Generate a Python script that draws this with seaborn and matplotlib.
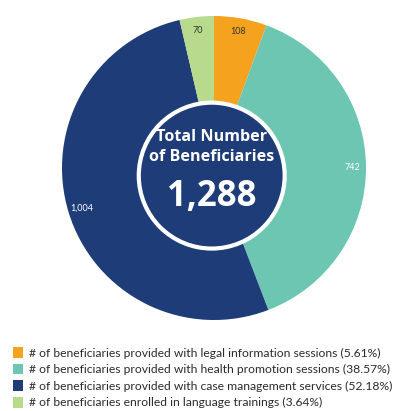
import matplotlib
matplotlib.use("Agg")
import matplotlib.pyplot as plt
import seaborn as sns
from matplotlib.patches import Circle

# data
labels = [
    "# of beneficiaries provided with legal information sessions (5.61%)",
    "# of beneficiaries provided with health promotion sessions (38.57%)",
    "# of beneficiaries provided with case management services (52.18%)",
    "# of beneficiaries enrolled in language trainings (3.64%)",
]
values = [108, 742, 1004, 70]
value_labels = ["108", "742", "1,004", "70"]
total_label = "1,288"
colors = ["#F5A21F", "#6CC6B1", "#1E3C78", "#B7DA8C"]

sns.set_theme(style="white")
plt.rcParams["font.family"] = ["Lato", "DejaVu Sans"]

fig = plt.figure(figsize=(4.01, 4.11), dpi=100)
ax = fig.add_axes([62 / 401, (411 - 320) / 411, 304 / 401, 304 / 411])

wedges, texts = ax.pie(values, labels=value_labels, colors=colors, startangle=90,
                       counterclock=False, labeldistance=0.91,
                       wedgeprops=dict(linewidth=0))
for t, c in zip(texts, ["#333333", "white", "white", "#333333"]):
    t.set_color(c)
    t.set_fontsize(6.5)
    t.set_ha("center")
    t.set_va("center")

# center circle
ax.add_patch(Circle((-0.015, -0.05), 0.48, facecolor="#1E3C78",
                    edgecolor="white", linewidth=3, zorder=5))
ax.text(-0.015, 0.205, "Total Number", ha="center", va="center", color="white",
        fontsize=11.6, fontweight="bold", family="Open Sans", zorder=6)
ax.text(-0.015, 0.07, "of Beneficiaries", ha="center", va="center", color="white",
        fontsize=11.6, fontweight="bold", family="Open Sans", zorder=6)
ax.text(-0.015, -0.19, total_label, ha="center", va="center", color="white",
        fontsize=25, fontweight="bold", family="Open Sans", zorder=6)
ax.set_xlim(-1, 1)
ax.set_ylim(-1, 1)
ax.set_aspect("equal")
ax.axis("off")

fig.legend(wedges, labels, loc="upper left", bbox_to_anchor=(13 / 401, 1 - 347 / 411),
           frameon=False, fontsize=8.7, handlelength=0.85, handleheight=1.0,
           handletextpad=0.45, labelspacing=0.42, borderaxespad=0, borderpad=0,
           labelcolor="#2b2b2b")

fig.savefig("out.png", dpi=100, facecolor="white")
